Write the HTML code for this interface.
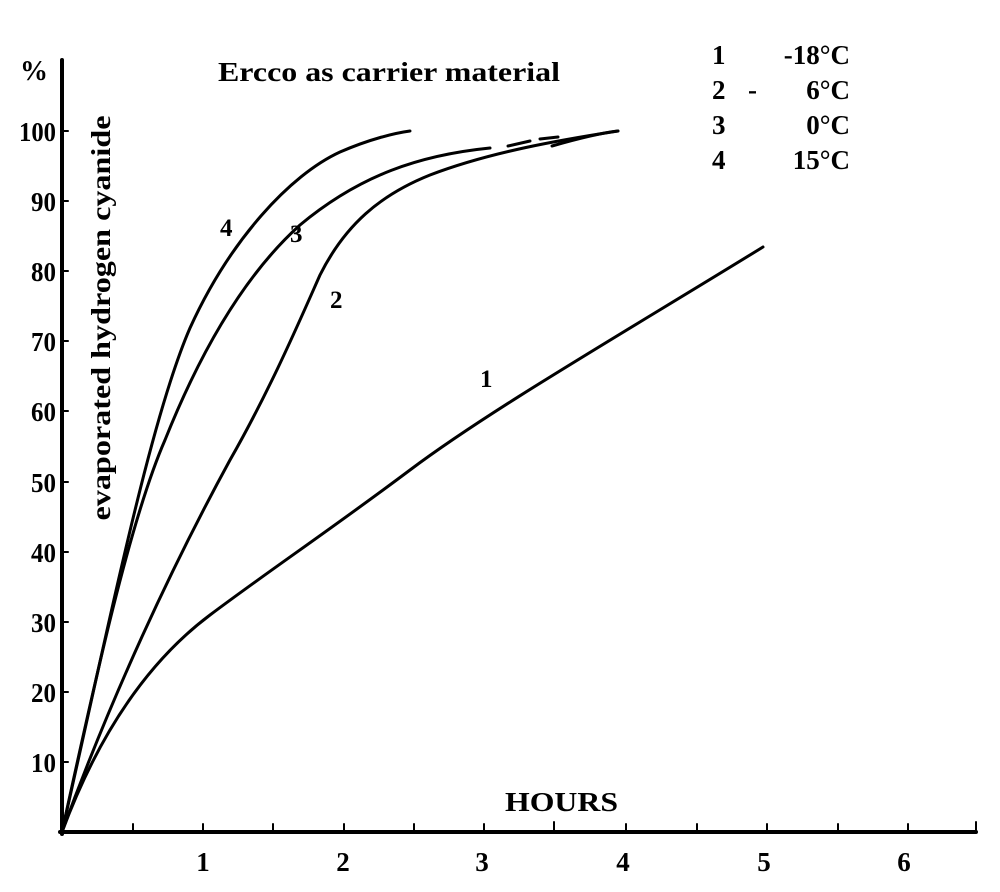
<!DOCTYPE html>
<html><head><meta charset="utf-8"><style>
html,body{margin:0;padding:0;background:#fff}
svg{display:block}
text{font-family:"Liberation Serif",serif;font-weight:bold;fill:#000}
</style></head><body>
<svg width="1000" height="892" viewBox="0 0 1000 892" xmlns="http://www.w3.org/2000/svg">
<g stroke="#000" fill="none" stroke-linecap="round">
<line x1="62" y1="60" x2="62" y2="834" stroke-width="4"/>
<line x1="60" y1="832" x2="976" y2="832" stroke-width="4"/>
<g stroke-width="2">
<line x1="133" y1="832" x2="133" y2="824"/><line x1="203" y1="832" x2="203" y2="824"/>
<line x1="273" y1="832" x2="273" y2="824"/><line x1="344" y1="832" x2="344" y2="824"/>
<line x1="414" y1="832" x2="414" y2="824"/><line x1="484" y1="832" x2="484" y2="824"/>
<line x1="554" y1="832" x2="554" y2="822"/><line x1="626" y1="832" x2="626" y2="824"/>
<line x1="697" y1="832" x2="697" y2="824"/><line x1="767" y1="832" x2="767" y2="824"/>
<line x1="838" y1="832" x2="838" y2="824"/><line x1="908" y1="832" x2="908" y2="824"/>
<line x1="976" y1="832" x2="976" y2="822"/>
<line x1="62" y1="131" x2="68" y2="131"/><line x1="62" y1="201" x2="68" y2="201"/>
<line x1="62" y1="271" x2="68" y2="271"/><line x1="62" y1="341" x2="68" y2="341"/>
<line x1="62" y1="411" x2="68" y2="411"/><line x1="62" y1="482" x2="68" y2="482"/>
<line x1="62" y1="552" x2="68" y2="552"/><line x1="62" y1="622" x2="68" y2="622"/>
<line x1="62" y1="692" x2="68" y2="692"/><line x1="62" y1="762" x2="68" y2="762"/>
</g>
<g stroke-width="3">
<path d="M62,832 C110,620 150,420 190,328 C230,240 290,175 340,152 C370,139 395,133 410,131"/>
<path d="M62,832 C95,680 130,520 165,440 C205,340 250,270 300,225 C360,175 420,155 490,148"/>
<path d="M508,146 L530,141 M540,139 L558,137 M552,146 C580,138 600,133 618,131"/>
<path d="M62,832 C110,700 170,570 230,460 C270,390 300,320 320,275 C345,225 380,195 430,175 C490,152 560,140 618,131"/>
<path d="M62,832 C100,730 150,660 210,615 S330,530 410,470 S620,335 763,247"/>
</g>
</g>
<g font-size="27" text-anchor="end">
<text x="56" y="141" textLength="37" lengthAdjust="spacingAndGlyphs">100</text>
<text x="56" y="211" textLength="25" lengthAdjust="spacingAndGlyphs">90</text>
<text x="56" y="281" textLength="25" lengthAdjust="spacingAndGlyphs">80</text>
<text x="56" y="351" textLength="25" lengthAdjust="spacingAndGlyphs">70</text>
<text x="56" y="421" textLength="25" lengthAdjust="spacingAndGlyphs">60</text>
<text x="56" y="492" textLength="25" lengthAdjust="spacingAndGlyphs">50</text>
<text x="56" y="562" textLength="25" lengthAdjust="spacingAndGlyphs">40</text>
<text x="56" y="632" textLength="25" lengthAdjust="spacingAndGlyphs">30</text>
<text x="56" y="702" textLength="25" lengthAdjust="spacingAndGlyphs">20</text>
<text x="56" y="772" textLength="25" lengthAdjust="spacingAndGlyphs">10</text>
</g>
<text x="20" y="80" font-size="28">%</text>
<g font-size="27" text-anchor="middle">
<text x="203" y="871">1</text><text x="343" y="871">2</text><text x="482" y="871">3</text>
<text x="623" y="871">4</text><text x="764" y="871">5</text><text x="904" y="871">6</text>
</g>
<text x="505" y="811" font-size="27" textLength="113" lengthAdjust="spacingAndGlyphs">HOURS</text>
<text x="218" y="81" font-size="27" textLength="342" lengthAdjust="spacingAndGlyphs">Ercco as carrier material</text>
<text transform="translate(110,318) rotate(-90)" font-size="27" text-anchor="middle" textLength="405" lengthAdjust="spacingAndGlyphs">evaporated hydrogen cyanide</text>
<g font-size="25">
<text x="220" y="236">4</text><text x="290" y="242">3</text><text x="330" y="308">2</text><text x="480" y="387">1</text>
</g>
<g font-size="27">
<text x="712" y="64">1</text><text x="850" y="64" text-anchor="end">-18°C</text>
<text x="712" y="99">2</text><text x="748" y="99">-</text><text x="850" y="99" text-anchor="end">6°C</text>
<text x="712" y="134">3</text><text x="850" y="134" text-anchor="end">0°C</text>
<text x="712" y="169">4</text><text x="850" y="169" text-anchor="end">15°C</text>
</g>
</svg>
</body></html>
